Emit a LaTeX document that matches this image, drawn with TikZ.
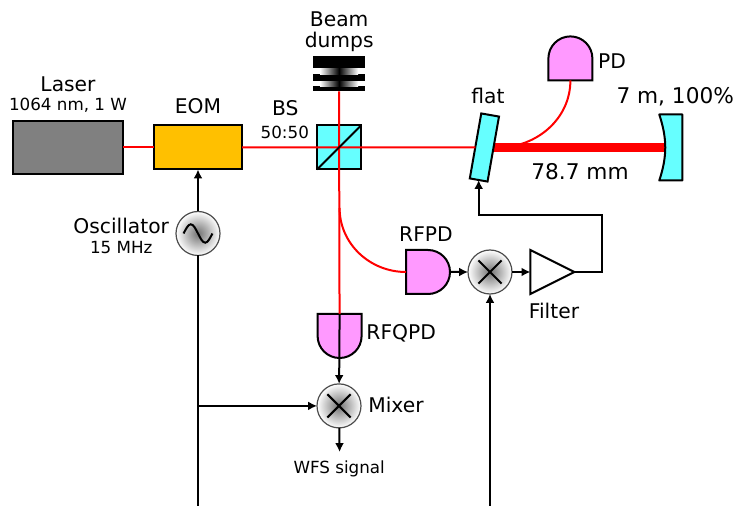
\documentclass[tikz,border=0pt]{standalone}
\usepackage{fontspec}
\setmainfont{DejaVu Sans}
\usetikzlibrary{positioning,backgrounds,arrows.meta,shapes.misc,shapes.geometric}

\definecolor{glass}{RGB}{102,255,255}
\definecolor{diode}{RGB}{255,153,255}
\definecolor{amber}{RGB}{255,192,0}

\begin{document}
\begin{tikzpicture}[
        box_node/.style={rectangle, draw=black, line width=0.5mm, outer sep=0pt},
        laser_node/.style={box_node, fill=black!50, minimum width=27.5mm, minimum height=13.25mm},
        eom_node/.style={box_node, fill=amber, minimum width=22mm, minimum height=11mm},
        cube_node/.style={box_node, fill=glass, minimum size=11mm},
        flat_node/.style={box_node, fill=glass, rotate=-10, minimum width=4.5mm, minimum height=16.5mm},
        mirror_node/.style={rectangle, outer sep=0pt, minimum width=5.75mm, minimum height=16.5mm},
        pd_node/.style={rounded rectangle, rounded rectangle west arc=none, draw=black, line width=0.5mm, fill=diode, outer sep=0pt, minimum width=11mm, minimum height=11mm},
        round_node/.style={circle, draw=black!70, line width=0.3mm, inner color=black!55, outer color=white, outer sep=0pt, minimum size=11mm},
        cross_node/.style={cross out, draw=black, line width=0.5mm, outer sep=0pt, minimum size=5.8mm},
        filter_node/.style={isosceles triangle, isosceles triangle stretches, draw=black, line width=0.5mm, outer sep=0pt, inner sep=0pt, minimum width=11mm, minimum height=11mm},
        dump_bar/.style={rectangle, fill=black, inner sep=0pt, outer sep=0pt, minimum width=13mm},
        dump_gap/.style={rectangle, left color=white, right color=white, middle color=black, inner sep=0pt, outer sep=0pt, minimum width=9.5mm},
        red_line/.style={red, line width=0.5mm},
        cavity_line/.style={red, line width=2.25mm},
        signal_line/.style={black, line width=0.5mm},
        signal_arrow/.style={black, line width=0.5mm, -{Latex[length=2.2mm,width=2.2mm]}},
        big_text/.style={font=\fontsize{14.4pt}{15pt}\selectfont, align=center, inner sep=0pt},
        wide_text/.style={font=\fontsize{15.4pt}{15pt}\selectfont, inner sep=0pt},
        small_text/.style={font=\fontsize{11.9pt}{14pt}\selectfont, inner sep=0pt}
        ]
            \useasboundingbox (0,0) rectangle (18.375,-12.65);

            % optics
            \node[laser_node]   (laser)    at (1.70,-3.6875)                {};
            \node[eom_node]     (eom)      [right = 7.75mm of laser]        {};
            \node[cube_node]    (bs)       [right = 18.75mm of eom]         {};
            \node[flat_node]    (flat)     at (12.11,-3.6875)               {};
            \node[mirror_node]  (mirror)   at (16.77,-3.6875)               {};
            % beam dumps
            \node[dump_bar, minimum height=1.25mm]  (dump_3)  [above = 8.5mm of bs]  {};
            \node[dump_gap, minimum height=1.25mm]  (gap_2)   [above = 0mm of dump_3] {};
            \node[dump_bar, minimum height=1.75mm]  (dump_2)  [above = 0mm of gap_2]  {};
            \node[dump_gap, minimum height=1.5mm]   (gap_1)   [above = 0mm of dump_2] {};
            \node[dump_bar, minimum height=3mm]     (dump_1)  [above = 0mm of gap_1]  {};
            % detectors
            \node[pd_node, rotate=90]   (pd)     at (14.26,-1.46)   {};
            \node[pd_node, rotate=-90]  (rfqpd)  at (8.49,-8.40)    {};
            % electronics
            \node[round_node]   (osc)      [below = 10.5mm of eom]      {};
            \node[round_node]   (mix_a)    [below = 53.6mm of bs]       {};
            \node[round_node]   (mix_b)    at (12.25,-6.80)             {};
            \node[pd_node]      (rfpd)     [left  = 4.5mm of mix_b]     {};
            \node[filter_node]  (filter)   [right = 4.6mm of mix_b]     {};
            \node[cross_node]   (cross_a)  at (mix_a)                   {};
            \node[cross_node]   (cross_b)  at (mix_b)                   {};

            % free ends
            \coordinate (osc_in)   at (4.95,-12.65);
            \coordinate (mix_in)   at (12.25,-12.65);
            \coordinate (beam_end) at (12.45,-3.6875);
            \coordinate (split)    at (8.49,-5.20);
            \coordinate (fb_turn)  at (15.05,-5.37);
            \coordinate (wfs_end)  at (8.49,-11.30);

            % Lines
            \begin{scope}[on background layer]
                \draw[cavity_line] (flat.center) -- (mirror.center);
            \end{scope}
            \filldraw[fill=glass, draw=black, line width=0.5mm, line join=round] (mirror.north east) -- (mirror.south east) -- (mirror.south west) to[bend right=18] (mirror.north west) -- cycle;
            \draw[red_line] (laser) -- (eom);
            \draw[red_line] (eom) -- (flat);
            \draw[red_line] (dump_3) -- (rfqpd);
            \draw[red_line] (split) to[out=-90, in=180] (rfpd.west);
            \draw[red_line] (pd.west) to[out=-90, in=0] (beam_end);
            \draw[signal_line] (bs.south west) -- (bs.north east);
            \draw[signal_arrow] (rfqpd.west) -- (mix_a);
            \draw[signal_arrow] (osc) -- (eom);
            \draw[signal_line] (osc_in) -- (osc);
            \draw[signal_arrow] (osc_in |- mix_a) -- (mix_a);
            \draw[signal_arrow] (mix_in) -- (mix_b);
            \draw[signal_arrow] (rfpd) -- (mix_b);
            \draw[signal_arrow] (mix_b) -- (filter.west);
            \draw[signal_arrow] (filter.east) -| (fb_turn) -| (flat.south);
            \draw[signal_arrow] (mix_a) -- (wfs_end);
            % oscillator sine
            \draw[black, line width=0.5mm] ([xshift=-3.6mm]osc.center) sin +(1.8mm,2.3mm) cos +(1.8mm,-2.3mm) sin +(1.8mm,-2.3mm) cos +(1.8mm,2.3mm);

            % text
            \node[big_text]   (txt_laser)  at (1.70,-2.10)  {Laser};
            \node[small_text] (txt_power)  at (1.70,-2.63)  {1064 nm, 1 W};
            \node[big_text]   (txt_eom)    at (4.95,-2.65)  {EOM};
            \node[big_text]   (txt_bs)     at (7.13,-2.70)  {BS};
            \node[small_text] (txt_ratio)  at (7.12,-3.30)  {50:50};
            \node[big_text]   (txt_dumps)  at (8.48,-0.80)  {Beam\\dumps};
            \node[big_text]   (txt_flat)   at (12.20,-2.40) {flat};
            \node[big_text]   (txt_pd)     at (15.30,-1.53) {PD};
            \node[wide_text]  (txt_mirror) at (16.88,-2.43) {7 m, 100\%};
            \node[wide_text]  (txt_length) at (14.50,-4.28) {78.7 mm};
            \node[big_text]   (txt_osc)    at (3.03,-5.65)  {Oscillator};
            \node[small_text] (txt_freq)   at (3.03,-6.18)  {15 MHz};
            \node[big_text]   (txt_rfpd)   at (10.65,-5.85) {RFPD};
            \node[big_text]   (txt_filter) at (13.85,-7.78) {Filter};
            \node[big_text]   (txt_rfqpd)  at (10.03,-8.33) {RFQPD};
            \node[big_text]   (txt_mixer)  at (9.90,-10.13) {Mixer};
            \node[small_text] (txt_wfs)    at (8.48,-11.73) {WFS signal};
        \end{tikzpicture}
\end{document}
